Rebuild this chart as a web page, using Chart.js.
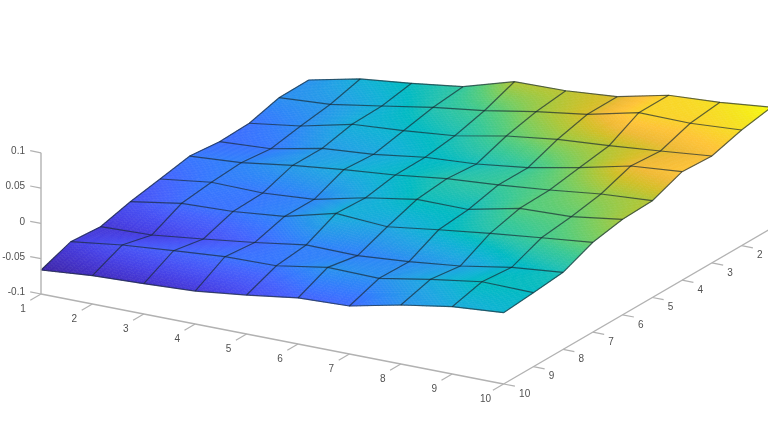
<!DOCTYPE html>
<html>
<head>
<meta charset="utf-8">
<title>Surface</title>
<script src="https://cdn.jsdelivr.net/npm/chart.js@4"></script>
<style>
  html, body { margin: 0; padding: 0; background: #fff; }
  canvas { display: block; filter: blur(0.6px); }
</style>
</head>
<body>
<canvas id="myChart" width="768" height="431"></canvas>
<script>
// axis values
const xValues = [1, 2, 3, 4, 5, 6, 7, 8, 9, 10];
const yValues = [1, 2, 3, 4, 5, 6, 7, 8, 9, 10];
const zTicks = [-0.1, -0.05, 0, 0.05, 0.1];
const zTickLabels = ['-0.1', '-0.05', '0', '0.05', '0.1'];

// surface heights, one array per y value
const zRow1 = [-0.0174, -0.0018, 0.0062, 0.0156, 0.0368, 0.0382, 0.0439, 0.0601, 0.0643, 0.0714];
const zRow2 = [-0.018, -0.0132, -0.0014, 0.0109, 0.0205, 0.033, 0.0435, 0.0599, 0.0591, 0.0637];
const zRow3 = [-0.0297, -0.0194, -0.0028, 0.0023, 0.0093, 0.0231, 0.0326, 0.0377, 0.0443, 0.0514];
const zRow4 = [-0.0313, -0.0271, -0.0123, -0.0067, 0.0033, 0.0079, 0.0169, 0.031, 0.0476, 0.0537];
const zRow5 = [-0.0271, -0.0224, -0.012, -0.0038, 0.0027, 0.0116, 0.0169, 0.0239, 0.0324, 0.0371];
const zRow6 = [-0.0351, -0.0256, -0.0266, -0.0214, -0.005, 0.0069, 0.0067, 0.0225, 0.0248, 0.0353];
const zRow7 = [-0.0428, -0.0309, -0.0283, -0.0212, -0.0028, -0.0074, 0.0025, 0.0116, 0.0195, 0.0272];
const zRow8 = [-0.0537, -0.0513, -0.0428, -0.0336, -0.0229, -0.0239, -0.0183, -0.0102, 0.0021, 0.0092];
const zRow9 = [-0.0504, -0.0409, -0.0348, -0.0292, -0.0278, -0.0159, -0.0173, -0.0045, 0.0062, 0.0048];
const zRow10 = [-0.066, -0.0599, -0.0571, -0.0533, -0.0448, -0.0348, -0.032, -0.0164, -0.0047, 0.001];
const zRows = [zRow1, zRow2, zRow3, zRow4, zRow5, zRow6, zRow7, zRow8, zRow9, zRow10];

// parula colormap, evenly spaced samples
const parula = [
  [0.2422, 0.1504, 0.6603], [0.2647, 0.1978, 0.7952], [0.2783, 0.2559, 0.8991],
  [0.2810, 0.3228, 0.9579], [0.2699, 0.3892, 0.9906], [0.2206, 0.4603, 0.9973],
  [0.1786, 0.5289, 0.9682], [0.1540, 0.5902, 0.9218], [0.1248, 0.6459, 0.8883],
  [0.0689, 0.6948, 0.8394], [0.0067, 0.7312, 0.7660], [0.1408, 0.7584, 0.6842],
  [0.2161, 0.7843, 0.5923], [0.3406, 0.8008, 0.4789], [0.5044, 0.7993, 0.3480],
  [0.6720, 0.7793, 0.2227], [0.8203, 0.7498, 0.1535], [0.9393, 0.7288, 0.2100],
  [0.9970, 0.7659, 0.2199], [0.9789, 0.8271, 0.1633], [0.9589, 0.8949, 0.1132],
  [0.9763, 0.9831, 0.0538]
];

const allZ = zRows.flat();
const zMin = Math.min(...allZ);
const zMax = Math.max(...allZ);

function colorFor(z) {
  // slight bend, the middle of the reference sits a bit further to the blue side
  const t = Math.pow((z - zMin) / (zMax - zMin), 1.12) * (parula.length - 1);
  const i = Math.min(Math.floor(t), parula.length - 2);
  const f = t - i;
  const c = [0, 1, 2].map(k => Math.round(255 * (parula[i][k] + (parula[i + 1][k] - parula[i][k]) * f)));
  return 'rgb(' + c[0] + ',' + c[1] + ',' + c[2] + ')';
}

// 3d view turned into the plane of the chart's two scales
function project(x, y, z) {
  return {
    x: 41 + 51.4 * (x - 1) + 29.75 * (10 - y),
    y: 294 + 10 * (x - 1) - 17.3 * (10 - y) - 706 * (z + 0.1)
  };
}

function lineSet(points, color, width) {
  return {
    data: points,
    showLine: true,
    pointRadius: 0,
    borderColor: color,
    borderWidth: width,
    tension: 0
  };
}

const datasets = [];
const axisColor = '#b2b2b2';
const meshColor = 'rgba(24,40,50,0.68)';

// box axes
datasets.push(lineSet([project(1, 10, -0.1), project(10, 10, -0.1)], axisColor, 1.4));
datasets.push(lineSet([project(10, 10, -0.1), project(10, 1, -0.1)], axisColor, 1.4));
datasets.push(lineSet([project(1, 10, -0.1), project(1, 10, 0.1)], axisColor, 1.4));

// ticks
xValues.forEach(x => datasets.push(lineSet([project(x, 10, -0.1), project(x, 10.36, -0.1)], axisColor, 1.2)));
yValues.forEach(y => datasets.push(lineSet([project(10, y, -0.1), project(10.22, y, -0.1)], axisColor, 1.2)));
zTicks.forEach(z => datasets.push(lineSet([project(1, 10, z), project(0.79, 10, z)], axisColor, 1.2)));

// mesh lines
yValues.forEach((y, j) => {
  datasets.push(lineSet(xValues.map((x, i) => project(x, y, zRows[j][i])), meshColor, 1.2));
});
xValues.forEach((x, i) => {
  datasets.push(lineSet(yValues.map((y, j) => project(x, y, zRows[j][i])), meshColor, 1.2));
});

// interpolated faces under the mesh
const surfacePlugin = {
  id: 'surface',
  beforeDatasetsDraw(chart) {
    const ctx = chart.ctx;
    const sx = chart.scales.x;
    const sy = chart.scales.y;
    const steps = 14;
    function zAt(j, i, v, u) {
      const a = zRows[j][i], b = zRows[j][i + 1], c = zRows[j + 1][i], d = zRows[j + 1][i + 1];
      return (a * (1 - u) + b * u) * (1 - v) + (c * (1 - u) + d * u) * v;
    }
    function vertex(j, i, v, u) {
      const p = project(xValues[i] + u, yValues[j] + v, zAt(j, i, v, u));
      return [sx.getPixelForValue(p.x), sy.getPixelForValue(p.y)];
    }
    ctx.save();
    ctx.lineWidth = 0.6;
    for (let j = 0; j < zRows.length - 1; j++) {
      for (let i = 0; i < xValues.length - 1; i++) {
        for (let a = 0; a < steps; a++) {
          for (let b = 0; b < steps; b++) {
            const v0 = a / steps, v1 = (a + 1) / steps, u0 = b / steps, u1 = (b + 1) / steps;
            const col = colorFor(zAt(j, i, (v0 + v1) / 2, (u0 + u1) / 2));
            const p1 = vertex(j, i, v0, u0), p2 = vertex(j, i, v0, u1);
            const p3 = vertex(j, i, v1, u1), p4 = vertex(j, i, v1, u0);
            ctx.fillStyle = col;
            ctx.strokeStyle = col;
            ctx.beginPath();
            ctx.moveTo(p1[0], p1[1]);
            ctx.lineTo(p2[0], p2[1]);
            ctx.lineTo(p3[0], p3[1]);
            ctx.lineTo(p4[0], p4[1]);
            ctx.closePath();
            ctx.fill();
            ctx.stroke();
          }
        }
      }
    }
    ctx.restore();
  }
};

// tick labels sit next to the projected axes
const labelPlugin = {
  id: 'tickText',
  afterDatasetsDraw(chart) {
    const ctx = chart.ctx;
    const sx = chart.scales.x;
    const sy = chart.scales.y;
    ctx.save();
    ctx.font = '10px "Liberation Sans", Arial, sans-serif';
    ctx.fillStyle = '#505050';
    ctx.textBaseline = 'middle';

    ctx.textAlign = 'center';
    xValues.forEach(x => {
      const p = project(x, 10, -0.1);
      ctx.fillText(String(x), sx.getPixelForValue(p.x) - 18, sy.getPixelForValue(p.y) + 15);
    });

    ctx.textAlign = 'left';
    yValues.forEach(y => {
      const p = project(10, y, -0.1);
      ctx.fillText(String(y), sx.getPixelForValue(p.x) + 15.5, sy.getPixelForValue(p.y) + 10);
    });

    ctx.textAlign = 'right';
    zTicks.forEach((z, k) => {
      const p = project(1, 10, z);
      ctx.fillText(zTickLabels[k], sx.getPixelForValue(p.x) - 16, sy.getPixelForValue(p.y) - 1.5);
    });
    ctx.restore();
  }
};

const ctx = document.getElementById('myChart').getContext('2d');
const myChart = new Chart(ctx, {
  type: 'scatter',
  data: { datasets: datasets },
  plugins: [surfacePlugin, labelPlugin],
  options: {
    responsive: false,
    animation: false,
    layout: { padding: 0 },
    plugins: {
      legend: { display: false },
      tooltip: { enabled: false },
      title: { display: false }
    },
    scales: {
      x: { type: 'linear', min: 0, max: 768, display: false },
      y: { type: 'linear', min: 0, max: 431, reverse: true, display: false }
    }
  }
});
</script>
</body>
</html>
